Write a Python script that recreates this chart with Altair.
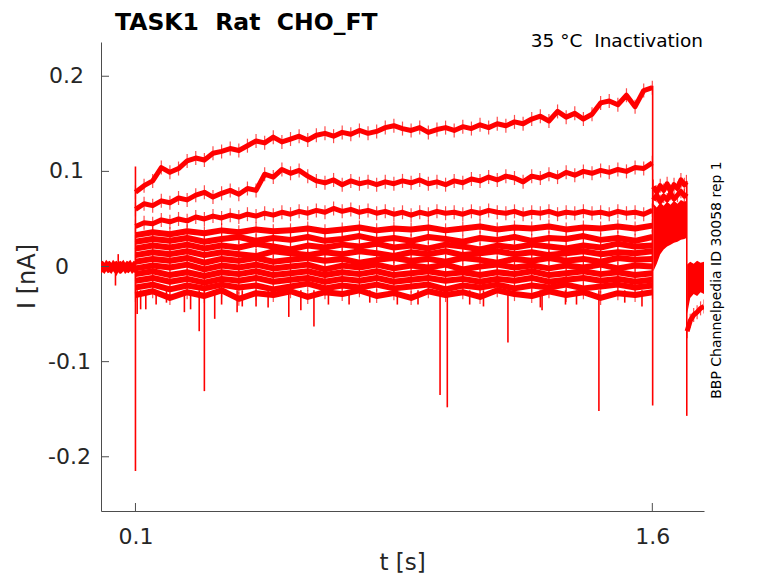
import altair as alt
import pandas as pd

NB = "\u00a0"

# ---- time grids (s) ----
T_PRE = [0.000, 0.005, 0.010, 0.015, 0.020, 0.025, 0.030, 0.035, 0.040, 0.045,
         0.050, 0.055, 0.060, 0.065, 0.070, 0.075, 0.080, 0.085, 0.090, 0.095, 0.100]
T_MAIN = [0.100, 0.125, 0.150, 0.175, 0.200, 0.225, 0.250, 0.275, 0.300, 0.325,
          0.350, 0.375, 0.400, 0.425, 0.450, 0.475, 0.500, 0.525, 0.550, 0.575,
          0.600, 0.625, 0.650, 0.675, 0.700, 0.725, 0.750, 0.775, 0.800, 0.825,
          0.850, 0.875, 0.900, 0.925, 0.950, 0.975, 1.000, 1.025, 1.050, 1.075,
          1.100, 1.125, 1.150, 1.175, 1.200, 1.225, 1.250, 1.275, 1.300, 1.325,
          1.350, 1.375, 1.400, 1.425, 1.450, 1.475, 1.500, 1.525, 1.550, 1.575,
          1.600]
T_BAND = [0.10, 0.15, 0.20, 0.25, 0.30, 0.35, 0.40, 0.45, 0.50, 0.55,
          0.60, 0.65, 0.70, 0.75, 0.80, 0.85, 0.90, 0.95, 1.00, 1.05,
          1.10, 1.15, 1.20, 1.25, 1.30, 1.35, 1.40, 1.45, 1.50, 1.55, 1.60]
T_P1 = [1.603, 1.613, 1.623, 1.633, 1.643, 1.653, 1.663, 1.673, 1.683, 1.693, 1.699]
T_P2 = [1.701, 1.710, 1.720, 1.730, 1.740, 1.750]

# ---- current (nA) ----
PRE_HI = [0.005, 0.006, 0.004, 0.007, 0.005, 0.006, 0.004, 0.007, 0.005, 0.006,
          0.004, 0.006, 0.005, 0.007, 0.004, 0.006, 0.005, 0.007, 0.004, 0.006, 0.005]
PRE_LO = [-0.007, -0.006, -0.008, -0.005, -0.007, -0.006, -0.008, -0.005, -0.007, -0.010,
          -0.006, -0.008, -0.007, -0.005, -0.008, -0.006, -0.007, -0.005, -0.008, -0.006, -0.007]

TR1 = [0.078, 0.085, 0.090, 0.104, 0.099, 0.103, 0.111, 0.114, 0.112, 0.119,
       0.121, 0.124, 0.122, 0.127, 0.132, 0.130, 0.136, 0.131, 0.134, 0.137,
       0.133, 0.138, 0.140, 0.137, 0.141, 0.139, 0.143, 0.140, 0.142, 0.146,
       0.148, 0.145, 0.143, 0.146, 0.141, 0.144, 0.146, 0.143, 0.147, 0.145,
       0.149, 0.146, 0.150, 0.148, 0.152, 0.150, 0.155, 0.158, 0.153, 0.163,
       0.157, 0.161, 0.155, 0.160, 0.172, 0.174, 0.170, 0.180, 0.168, 0.185,
       0.188]
TR2 = [0.060, 0.066, 0.064, 0.069, 0.067, 0.072, 0.070, 0.075, 0.078, 0.073,
       0.077, 0.080, 0.076, 0.082, 0.080, 0.097, 0.094, 0.102, 0.098, 0.101,
       0.095, 0.090, 0.088, 0.091, 0.086, 0.090, 0.087, 0.089, 0.086, 0.089,
       0.087, 0.090, 0.088, 0.091, 0.087, 0.089, 0.086, 0.090, 0.088, 0.092,
       0.090, 0.094, 0.091, 0.095, 0.093, 0.089, 0.095, 0.093, 0.097, 0.094,
       0.099, 0.096, 0.100, 0.098, 0.101, 0.099, 0.102, 0.100, 0.104, 0.103,
       0.109]
TR3 = [0.042, 0.046, 0.045, 0.049, 0.047, 0.050, 0.048, 0.052, 0.050, 0.053,
       0.051, 0.054, 0.052, 0.055, 0.053, 0.056, 0.054, 0.057, 0.055, 0.058,
       0.056, 0.059, 0.057, 0.061, 0.058, 0.060, 0.057, 0.059, 0.056, 0.058,
       0.055, 0.057, 0.054, 0.057, 0.055, 0.058, 0.056, 0.057, 0.055, 0.058,
       0.056, 0.059, 0.057, 0.056, 0.058, 0.055, 0.057, 0.056, 0.058, 0.055,
       0.057, 0.056, 0.058, 0.056, 0.057, 0.055, 0.058, 0.056, 0.057, 0.055,
       0.059]

B1 = [0.033, 0.036, 0.034, 0.037, 0.035, 0.038, 0.036, 0.039, 0.037, 0.038,
      0.040, 0.037, 0.039, 0.041, 0.038, 0.040, 0.039, 0.041, 0.038, 0.040,
      0.042, 0.039, 0.041, 0.040, 0.042, 0.039, 0.041, 0.040, 0.042, 0.040, 0.043]
B2 = [0.026, 0.029, 0.027, 0.030, 0.026, 0.029, 0.031, 0.027, 0.030, 0.028,
      0.031, 0.027, 0.029, 0.032, 0.028, 0.030, 0.027, 0.031, 0.029, 0.026,
      0.030, 0.028, 0.031, 0.027, 0.030, 0.029, 0.032, 0.028, 0.030, 0.027, 0.031]
B3 = [0.019, 0.022, 0.020, 0.023, 0.019, 0.022, 0.020, 0.024, 0.021, 0.018,
      0.022, 0.020, 0.023, 0.021, 0.024, 0.020, 0.022, 0.019, 0.023, 0.021,
      0.018, 0.022, 0.020, 0.023, 0.021, 0.019, 0.022, 0.020, 0.024, 0.021, 0.022]
B4 = [0.012, 0.015, 0.013, 0.016, 0.012, 0.015, 0.013, 0.011, 0.016, 0.014,
      0.012, 0.015, 0.013, 0.016, 0.014, 0.011, 0.015, 0.013, 0.016, 0.012,
      0.014, 0.016, 0.013, 0.015, 0.012, 0.014, 0.016, 0.013, 0.015, 0.014, 0.016]
B5 = [0.005, 0.008, 0.006, 0.009, 0.004, 0.008, 0.006, 0.009, 0.005, 0.007,
      0.009, 0.006, 0.008, 0.004, 0.007, 0.009, 0.006, 0.008, 0.005, 0.009,
      0.007, 0.004, 0.008, 0.006, 0.009, 0.006, 0.008, 0.005, 0.009, 0.007, 0.008]
B6 = [-0.002, 0.001, -0.001, 0.002, -0.003, 0.001, -0.001, 0.002, -0.002, 0.000,
      0.002, -0.003, 0.001, -0.001, 0.002, -0.002, 0.001, -0.001, 0.002, -0.003,
      0.000, 0.002, -0.001, 0.001, -0.002, 0.001, -0.001, 0.002, -0.002, 0.001, 0.000]
B7 = [-0.008, -0.005, -0.009, -0.006, -0.010, -0.006, -0.008, -0.005, -0.009, -0.007,
      -0.005, -0.009, -0.006, -0.008, -0.005, -0.009, -0.007, -0.005, -0.008, -0.006,
      -0.009, -0.006, -0.008, -0.005, -0.009, -0.007, -0.005, -0.008, -0.006, -0.009, -0.007]
B8 = [-0.015, -0.012, -0.016, -0.013, -0.017, -0.013, -0.015, -0.012, -0.016, -0.014,
      -0.012, -0.016, -0.013, -0.015, -0.012, -0.016, -0.014, -0.012, -0.015, -0.013,
      -0.016, -0.013, -0.015, -0.012, -0.016, -0.014, -0.012, -0.015, -0.013, -0.016, -0.014]
B9 = [-0.022, -0.019, -0.024, -0.020, -0.023, -0.019, -0.022, -0.020, -0.024, -0.021,
      -0.018, -0.023, -0.020, -0.022, -0.019, -0.023, -0.021, -0.019, -0.024, -0.020,
      -0.022, -0.019, -0.023, -0.020, -0.022, -0.019, -0.023, -0.021, -0.019, -0.022, -0.020]
B10 = [-0.030, -0.026, -0.033, -0.027, -0.031, -0.025, -0.034, -0.028, -0.030, -0.026,
       -0.032, -0.027, -0.029, -0.025, -0.031, -0.028, -0.033, -0.026, -0.030, -0.027,
       -0.032, -0.025, -0.029, -0.031, -0.026, -0.030, -0.027, -0.033, -0.028, -0.030, -0.027]

P1_A = [0.084, 0.078, 0.085, 0.080, 0.087, 0.079, 0.086, 0.082, 0.091, 0.086, 0.089]
P1_B = [0.070, 0.075, 0.068, 0.074, 0.070, 0.077, 0.071, 0.075, 0.079, 0.074, 0.077]
P1_LO = [-0.005, 0.003, 0.013, 0.018, 0.021, 0.023, 0.025, 0.026, 0.028, 0.029, 0.030]
P1_HI = [0.066, 0.062, 0.067, 0.064, 0.068, 0.065, 0.069, 0.066, 0.070, 0.068, 0.069]

P2_HI = [0.002, 0.005, 0.003, 0.006, 0.004, 0.005]
P2_LO = [-0.050, -0.033, -0.029, -0.031, -0.027, -0.029]
P2_C = [-0.068, -0.057, -0.051, -0.048, -0.044, -0.042]

# transient spikes: time, lowest, highest
SPIKE_T = [0.042, 0.050, 0.100, 0.105, 0.115, 0.130, 0.160, 0.190, 0.242, 0.260,
           0.285, 0.300, 0.330, 0.350, 0.395, 0.410, 0.450, 0.485, 0.545, 0.580,
           0.618, 0.660, 0.720, 0.780, 0.860, 0.920, 0.984, 1.005, 1.070, 1.110,
           1.181, 1.275, 1.280, 1.348, 1.380, 1.445, 1.520, 1.570, 1.601, 1.700]
SPIKE_LO = [-0.020, 0.000, -0.215, -0.050, -0.045, -0.045, -0.040, -0.038, -0.048, -0.045,
            -0.068, -0.131, -0.055, -0.040, -0.048, -0.042, -0.042, -0.043, -0.053, -0.046,
            -0.063, -0.040, -0.040, -0.038, -0.040, -0.040, -0.135, -0.148, -0.040, -0.042,
            -0.080, -0.043, -0.046, -0.040, -0.040, -0.152, -0.038, -0.042, -0.146, -0.157]
SPIKE_HI = [-0.004, 0.013, 0.105, -0.025, -0.025, -0.025, -0.025, -0.025, -0.025, -0.025,
            -0.025, -0.025, -0.025, -0.025, -0.025, -0.025, -0.025, -0.025, -0.025, -0.025,
            -0.025, -0.025, -0.025, -0.025, -0.025, -0.025, -0.025, -0.025, -0.025, -0.025,
            -0.025, -0.025, -0.025, -0.025, -0.025, -0.025, -0.025, -0.025, 0.190, 0.090]

X_TICKS = [0.1, 1.6]
Y_TICKS = [-0.2, -0.1, 0.0, 0.1, 0.2]
Y_LABELS = ["-0.2", "-0.1", "0", "0.1", "0.2"]

TITLE = "TASK1" + NB + " Rat" + NB + " CHO_FT"
SUBTITLE = "35 °C" + NB + " Inactivation"
SIDE = "BBP Channelpedia ID 30058 rep 1"

# ---- tables ----
line_rows = []
for name, tt, vv in [("tr1", T_MAIN, TR1), ("tr2", T_MAIN, TR2), ("tr3", T_MAIN, TR3),
                     ("b1", T_BAND, B1), ("b2", T_BAND, B2), ("b3", T_BAND, B3),
                     ("b4", T_BAND, B4), ("b5", T_BAND, B5), ("b6", T_BAND, B6),
                     ("b7", T_BAND, B7), ("b8", T_BAND, B8), ("b9", T_BAND, B9),
                     ("b10", T_BAND, B10), ("p1a", T_P1, P1_A), ("p1b", T_P1, P1_B),
                     ("p2c", T_P2, P2_C)]:
    for t, v in zip(tt, vv):
        line_rows.append({"t": t, "v": v, "trace": name})
lines_df = pd.DataFrame(line_rows)

area_rows = []
for name, tt, lo, hi in [("pre", T_PRE, PRE_LO, PRE_HI), ("p1", T_P1, P1_LO, P1_HI),
                         ("p2", T_P2, P2_LO, P2_HI)]:
    for t, a, b in zip(tt, lo, hi):
        area_rows.append({"t": t, "lo": a, "hi": b, "seg": name})
area_df = pd.DataFrame(area_rows)

spike_df = pd.DataFrame({"t": SPIKE_T, "lo": SPIKE_LO, "hi": SPIKE_HI})
xt_df = pd.DataFrame({"t": X_TICKS})
yt_df = pd.DataFrame({"v": Y_TICKS, "label": Y_LABELS})

W, H = 603, 469
RED = "#ff0000"
AX = "#4d4d4d"
TXT = "#262626"
FONT = "DejaVu Sans"
MAIN = "indexof(['tr1','tr2','tr3','p1a','p1b','p2c'], datum.trace) >= 0"

xs = alt.Scale(domain=[0, 1.75], nice=False, zero=False)
ys = alt.Scale(domain=[-0.257, 0.236], nice=False, zero=False)

xaxis = alt.Axis(values=X_TICKS, format=".1f", ticks=False, tickSize=0, grid=False,
                 domainColor=AX, domainWidth=1, labelFont=FONT, labelFontSize=22,
                 labelColor=TXT, labelPadding=15)
yaxis = alt.Axis(values=Y_TICKS, ticks=False, tickSize=0, grid=False, labels=False,
                 domainColor=AX, domainWidth=1)

X = alt.X("t:Q", scale=xs, axis=xaxis, title=None)
YV = alt.Y("v:Q", scale=ys, axis=yaxis, title=None)

areas = alt.Chart(area_df).mark_area(color=RED, clip=True, opacity=1).encode(
    x=X, y=alt.Y("lo:Q", scale=ys, axis=yaxis, title=None), y2="hi:Q", detail="seg:N")

main_lines = alt.Chart(lines_df).transform_filter(MAIN).mark_line(
    color=RED, strokeWidth=5, clip=True, strokeJoin="round").encode(
    x=X, y=YV, detail="trace:N")

band_lines = alt.Chart(lines_df).transform_filter("!(" + MAIN + ")").mark_line(
    color=RED, strokeWidth=6, clip=True, strokeJoin="round").encode(
    x=X, y=YV, detail="trace:N")

# short vertical hairs at each sample: the recording noise around every trace
hairs = alt.Chart(lines_df).mark_tick(
    color=RED, orient="vertical", size=14, thickness=1.2, clip=True).encode(x=X, y=YV)

spikes = alt.Chart(spike_df).mark_rule(color=RED, strokeWidth=1.6, clip=True).encode(
    x=X, y=alt.Y("lo:Q", scale=ys, axis=yaxis, title=None), y2="hi:Q")

xticks = alt.Chart(xt_df).mark_rule(color=AX, strokeWidth=1).encode(
    x=X, y=alt.value(H), y2=alt.value(H - 8))
yticks = alt.Chart(yt_df).mark_rule(color=AX, strokeWidth=1).encode(
    y=YV, x=alt.value(0), x2=alt.value(8))


def ylabels(test, xpos):
    # MATLAB pads tick labels to a common width, so each group sits at its own offset
    return alt.Chart(yt_df).transform_filter(test).mark_text(
        font=FONT, fontSize=22, color=TXT, align="right", baseline="middle").encode(
        y=YV, x=alt.value(xpos), text="label:N")


ylab_neg = ylabels("datum.v < 0", -10)
ylab_zero = ylabels("datum.v == 0", -32)
ylab_pos = ylabels("datum.v > 0", -17)

one = alt.Data(values=[{}])
title_t = alt.Chart(one).mark_text(text=TITLE, font=FONT, fontSize=23.5, fontWeight="bold",
                                   color="#000000", align="left", baseline="alphabetic").encode(
    x=alt.value(14), y=alt.value(-12))
sub_t = alt.Chart(one).mark_text(text=SUBTITLE, font=FONT, fontSize=18.5, color="#000000",
                                 align="right", baseline="alphabetic").encode(
    x=alt.value(W - 1), y=alt.value(5))
side_t = alt.Chart(one).mark_text(text=SIDE, font=FONT, fontSize=14, color="#000000",
                                  align="center", baseline="alphabetic", angle=270).encode(
    x=alt.value(620), y=alt.value(238))
ylab = alt.Chart(one).mark_text(text="I [nA]", font=FONT, fontSize=24, color=TXT,
                                align="center", baseline="middle", angle=270).encode(
    x=alt.value(-73), y=alt.value(H / 2))
xlab = alt.Chart(one).mark_text(text="t [s]", font=FONT, fontSize=23, color=TXT,
                                align="center", baseline="alphabetic").encode(
    x=alt.value(W / 2), y=alt.value(528))

chart = alt.layer(areas, band_lines, main_lines, hairs, spikes, xticks, yticks,
                  ylab_neg, ylab_zero, ylab_pos,
                  title_t, sub_t, side_t, ylab, xlab).properties(
    width=W, height=H, autosize="none",
    padding={"left": 93, "top": 34, "right": 66, "bottom": 64},
    background="white",
).configure_view(stroke=None)

chart.save("out.html", embed_options={"renderer": "svg", "actions": False})
